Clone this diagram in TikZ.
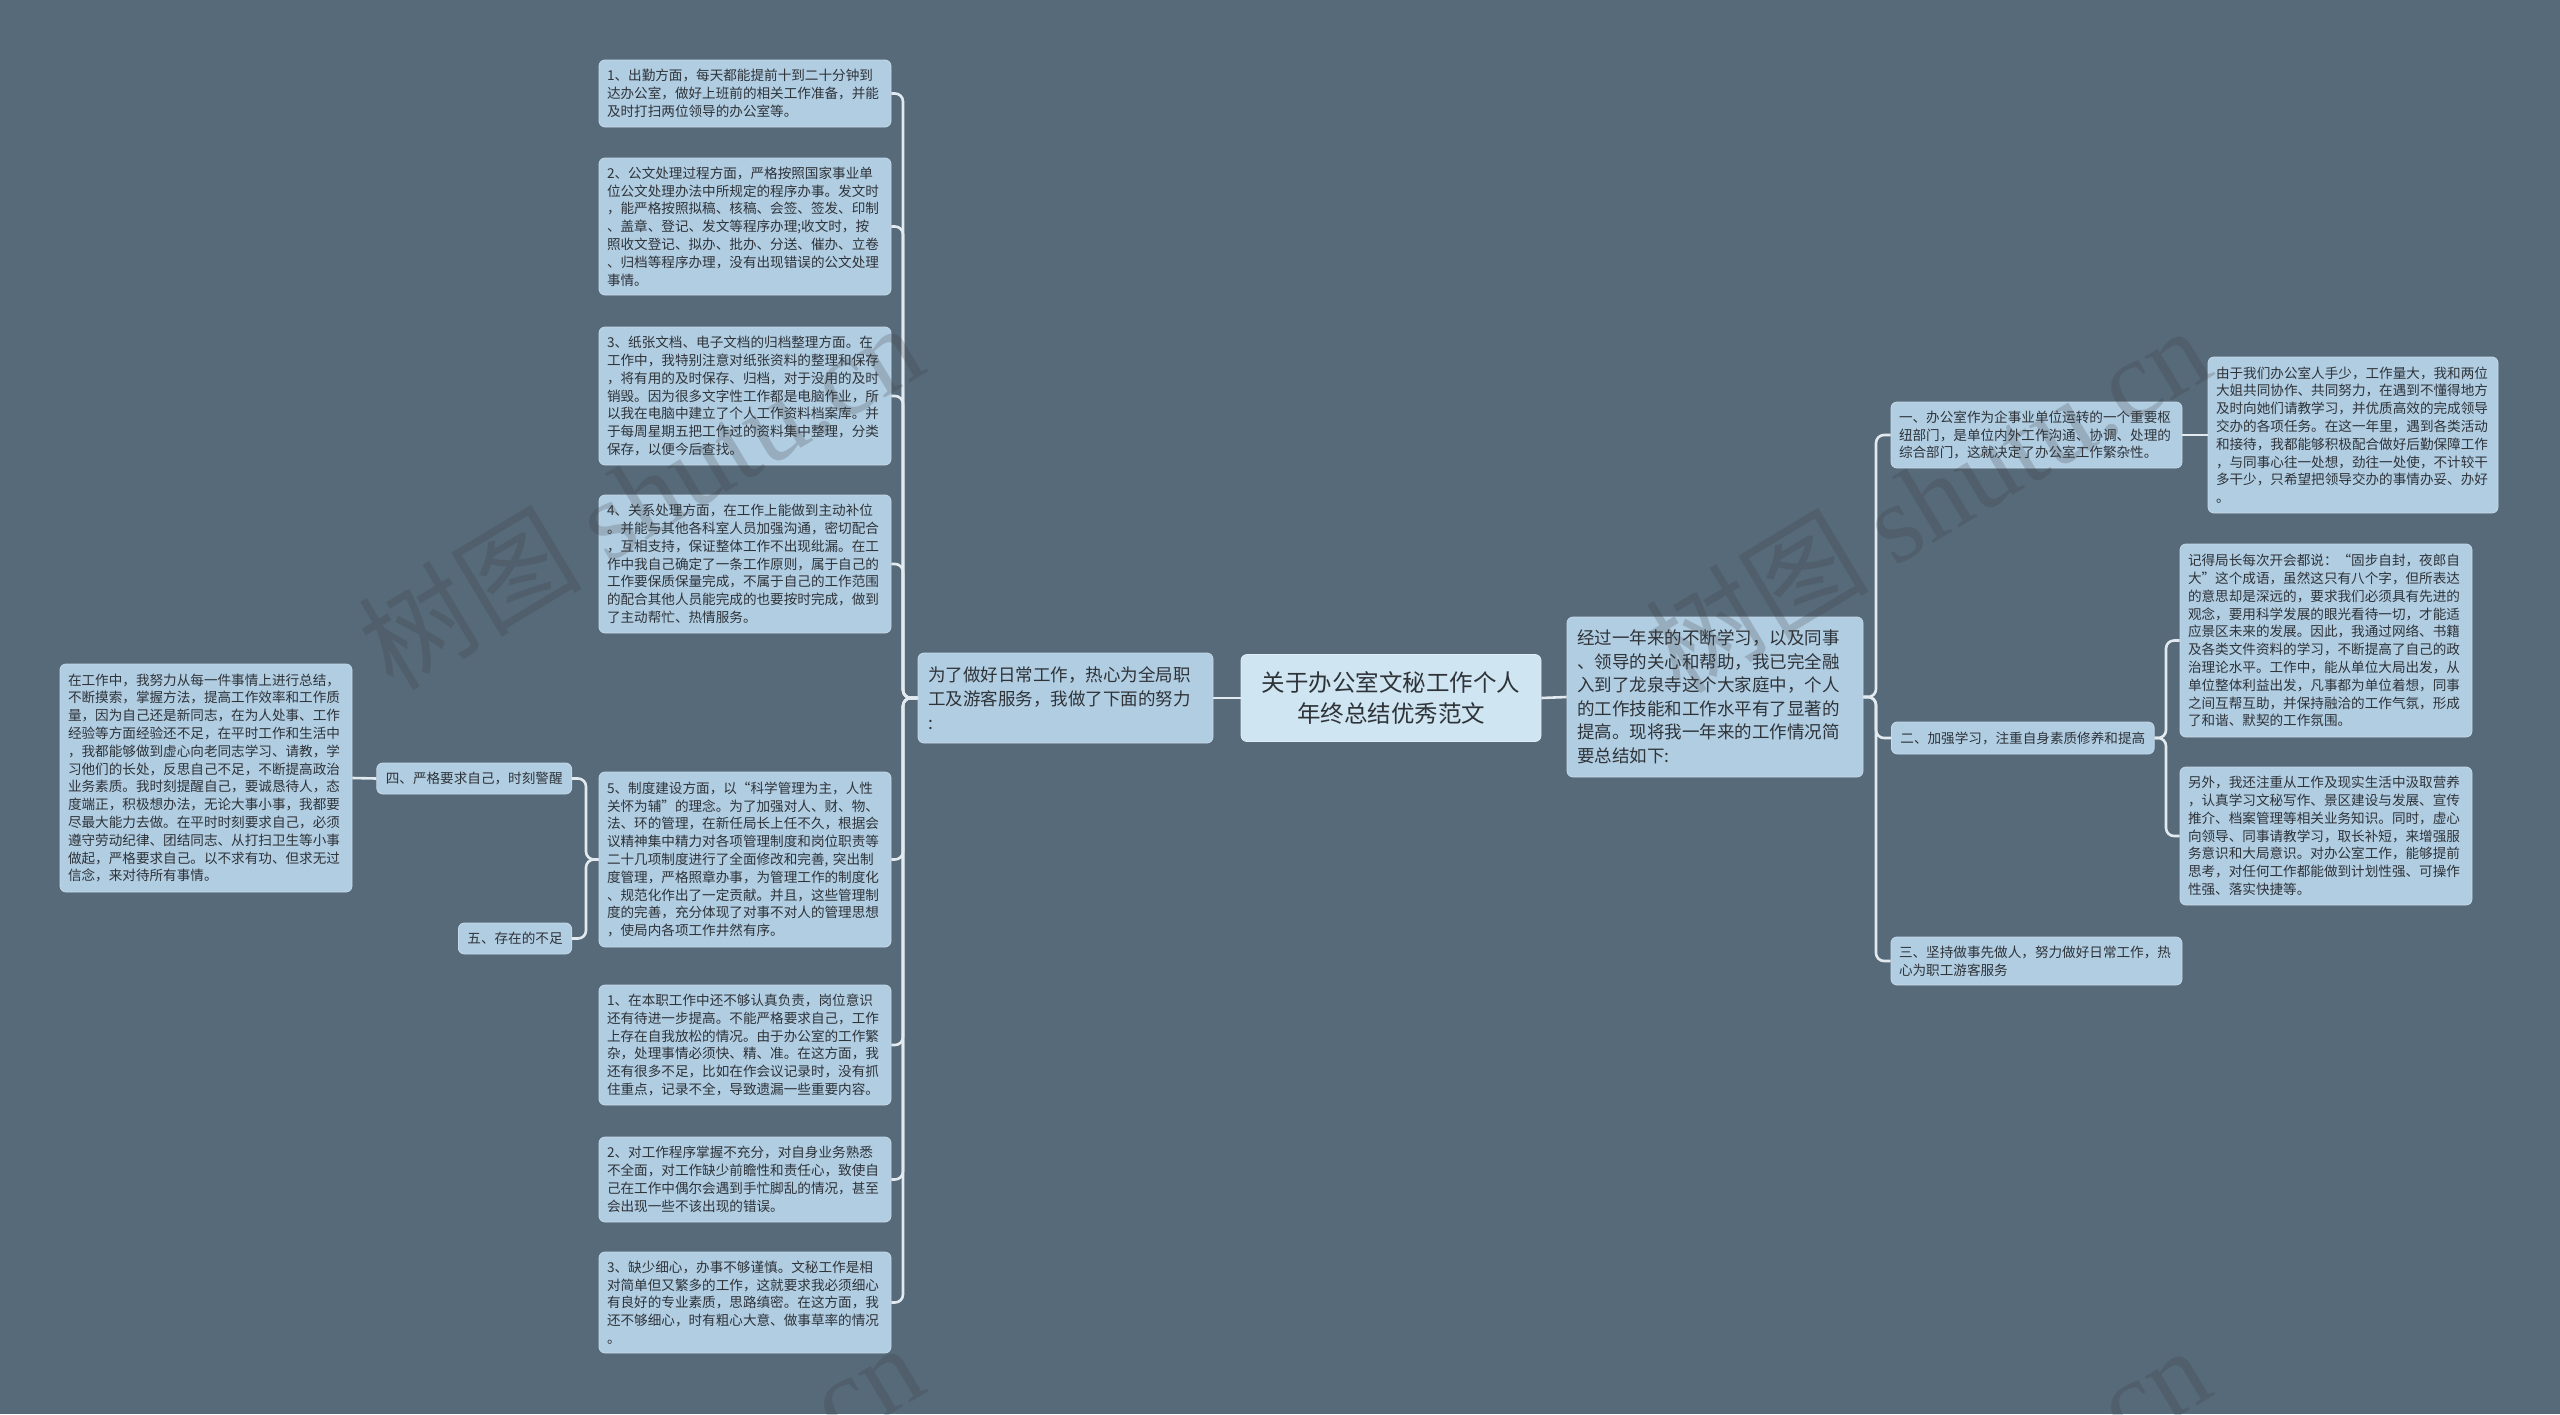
\documentclass[tikz,border=0pt]{standalone}
\usepackage{fontspec}
\setmainfont{Noto Sans CJK SC}
\newfontfamily\wmlatin{Liberation Serif}
\usetikzlibrary{calc}
\definecolor{bg}{HTML}{566A79}
\definecolor{boxc}{HTML}{B1CDE2}
\definecolor{rootc}{HTML}{D0E5F2}
\definecolor{linec}{HTML}{E2EAF0}
\definecolor{txt}{HTML}{2E3338}
\definecolor{wmc}{HTML}{3C3C3C}
\tikzset{
  basebox/.style={fill=boxc, draw=boxc!75!white, line width=0.8pt, rounded corners=6pt, text=txt},
  leaf/.style={basebox, align=left, inner xsep=8pt, inner ysep=6pt, text width=276pt,
    font=\fontsize{13.6}{17.8}\selectfont},
  single/.style={basebox, align=left, inner xsep=9pt, inner ysep=4pt, minimum height=31pt,
    font=\fontsize{13.6}{17.8}\selectfont},
  midbox/.style={basebox, align=left, inner xsep=10pt, inner ysep=6pt,
    font=\fontsize{17.5}{24}\selectfont},
  rootbox/.style={fill=rootc, draw=rootc!70!white, line width=0.8pt, rounded corners=6pt, text=txt,
    align=center, minimum width=300pt, minimum height=87pt, font=\fontsize{23.5}{31}\selectfont},
  conn/.style={draw=linec, line width=2.6pt, rounded corners=8pt},
  wm/.style={rotate=31, text=wmc, text opacity=0.22, font=\fontsize{112}{112}\selectfont}
}
\begin{document}
\begin{tikzpicture}[x=1pt,y=-1pt]
\fill[bg] (0,0) rectangle (2560,1414);
\useasboundingbox (0,0) rectangle (2560,1414);

% root and first level
\node[rootbox] (root) at (1391,698) {关于办公室文秘工作个人\\年终总结优秀范文};
\node[midbox, text width=275pt, minimum height=90pt] (ln) at (1065.5,698) {为了做好日常工作，热心为全局职\\工及游客服务，我做了下面的努力\\:};
\node[midbox, text width=276pt, minimum height=160pt, font=\fontsize{17.5}{23.5}\selectfont] (rn) at (1715,697) {经过一年来的不断学习，以及同事\\、领导的关心和帮助，我已完全融\\入到了龙泉寺这个大家庭中，个人\\的工作技能和工作水平有了显著的\\提高。现将我一年来的工作情况简\\要总结如下:};

% left column
\node[leaf, minimum height=67pt] (b1) at (745,93.5) {1、出勤方面，每天都能提前十到二十分钟到\\达办公室，做好上班前的相关工作准备，并能\\及时打扫两位领导的办公室等。};
\node[leaf, minimum height=137pt] (b2) at (745,226.5) {2、公文处理过程方面，严格按照国家事业单\\位公文处理办法中所规定的程序办事。发文时\\，能严格按照拟稿、核稿、会签、签发、印制\\、盖章、登记、发文等程序办理;收文时，按\\照收文登记、拟办、批办、分送、催办、立卷\\、归档等程序办理，没有出现错误的公文处理\\事情。};
\node[leaf, minimum height=138pt] (b3) at (745,396) {3、纸张文档、电子文档的归档整理方面。在\\工作中，我特别注意对纸张资料的整理和保存\\，将有用的及时保存、归档，对于没用的及时\\销毁。因为很多文字性工作都是电脑作业，所\\以我在电脑中建立了个人工作资料档案库。并\\于每周星期五把工作过的资料集中整理，分类\\保存，以便今后查找。};
\node[leaf, minimum height=138pt] (b4) at (745,564) {4、关系处理方面，在工作上能做到主动补位\\。并能与其他各科室人员加强沟通，密切配合\\，互相支持，保证整体工作不出现纰漏。在工\\作中我自己确定了一条工作原则，属于自己的\\工作要保质保量完成，不属于自己的工作范围\\的配合其他人员能完成的也要按时完成，做到\\了主动帮忙、热情服务。};
\node[leaf, minimum height=175pt] (b5) at (745,859.5) {5、制度建设方面，以“科学管理为主，人性\\关怀为辅”的理念。为了加强对人、财、物、\\法、环的管理，在新任局长上任不久，根据会\\议精神集中精力对各项管理制度和岗位职责等\\二十几项制度进行了全面修改和完善,~突出制\\度管理，严格照章办事，为管理工作的制度化\\、规范化作出了一定贡献。并且，这些管理制\\度的完善，充分体现了对事不对人的管理思想\\，使局内各项工作井然有序。};
\node[leaf, minimum height=120pt] (c1) at (745,1045) {1、在本职工作中还不够认真负责，岗位意识\\还有待进一步提高。不能严格要求自己，工作\\上存在自我放松的情况。由于办公室的工作繁\\杂，处理事情必须快、精、准。在这方面，我\\还有很多不足，比如在作会议记录时，没有抓\\住重点，记录不全，导致遗漏一些重要内容。};
\node[leaf, minimum height=85pt] (c2) at (745,1179.5) {2、对工作程序掌握不充分，对自身业务熟悉\\不全面，对工作缺少前瞻性和责任心，致使自\\己在工作中偶尔会遇到手忙脚乱的情况，甚至\\会出现一些不该出现的错误。};
\node[leaf, minimum height=101pt] (c3) at (745,1302.5) {3、缺少细心，办事不够谨慎。文秘工作是相\\对简单但又繁多的工作，这就要求我必须细心\\有良好的专业素质，思路缜密。在这方面，我\\还不够细心，时有粗心大意、做事草率的情况\\。};

% far left
\node[single, anchor=east] (si) at (572,778.5) {四、严格要求自己，时刻警醒};
\node[single, anchor=east] (wu) at (572,938.5) {五、存在的不足};
\node[leaf, minimum height=228pt] (lf) at (206,778) {在工作中，我努力从每一件事情上进行总结，\\不断摸索，掌握方法，提高工作效率和工作质\\量，因为自己还是新同志，在为人处事、工作\\经验等方面经验还不足，在平时工作和生活中\\，我都能够做到虚心向老同志学习、请教，学\\习他们的长处，反思自己不足，不断提高政治\\业务素质。我时刻提醒自己，要诚恳待人，态\\度端正，积极想办法，无论大事小事，我都要\\尽最大能力去做。在平时时刻要求自己，必须\\遵守劳动纪律、团结同志、从打扫卫生等小事\\做起，严格要求自己。以不求有功、但求无过\\信念，来对待所有事情。};

% right side
\node[leaf, text width=275pt, minimum height=66pt] (y1) at (2036.5,435) {一、办公室作为企事业单位运转的一个重要枢\\纽部门，是单位内外工作沟通、协调、处理的\\综合部门，这就决定了办公室工作繁杂性。};
\node[single, anchor=west, minimum height=32pt] (e2) at (1891,738) {二、加强学习，注重自身素质修养和提高};
\node[leaf, text width=275pt, minimum height=48pt] (s3) at (2036.5,961) {三、坚持做事先做人，努力做好日常工作，热\\心为职工游客服务};
\node[leaf, text width=274pt, minimum height=156pt] (yu) at (2353,435) {由于我们办公室人手少，工作量大，我和两位\\大姐共同协作、共同努力，在遇到不懂得地方\\及时向她们请教学习，并优质高效的完成领导\\交办的各项任务。在这一年里，遇到各类活动\\和接待，我都能够积极配合做好后勤保障工作\\，与同事心往一处想，劲往一处使，不计较干\\多干少，只希望把领导交办的事情办妥、办好\\。};
\node[leaf, minimum height=193pt] (jd) at (2326,640.5) {记得局长每次开会都说：“固步自封，夜郎自\\大”这个成语，虽然这只有八个字，但所表达\\的意思却是深远的，要求我们必须具有先进的\\观念，要用科学发展的眼光看待一切，才能适\\应景区未来的发展。因此，我通过网络、书籍\\及各类文件资料的学习，不断提高了自己的政\\治理论水平。工作中，能从单位大局出发，从\\单位整体利益出发，凡事都为单位着想，同事\\之间互帮互助，并保持融洽的工作气氛，形成\\了和谐、默契的工作氛围。};
\node[leaf, minimum height=138pt] (lw) at (2326,836) {另外，我还注重从工作及现实生活中汲取营养\\，认真学习文秘写作、景区建设与发展、宣传\\推介、档案管理等相关业务知识。同时，虚心\\向领导、同事请教学习，取长补短，来增强服\\务意识和大局意识。对办公室工作，能够提前\\思考，对任何工作都能做到计划性强、可操作\\性强、落实快捷等。};

% connectors
\draw[conn] (root.west) -- (ln.east);
\draw[conn] (root.east) -- (rn.west);
\coordinate (lbus) at (903,698);
\foreach \n in {b1,b2,b3,b4,b5,c1,c2,c3} \draw[conn] (ln.west) -- (lbus) |- (\n.east);
\coordinate (mbus) at (586,859.5);
\draw[conn] (b5.west) -- (mbus) |- (si.east);
\draw[conn] (b5.west) -- (mbus) |- (wu.east);
\draw[conn] (si.west) -- (lf.east);
\coordinate (rbus) at (1876,697);
\foreach \n in {y1,e2,s3} \draw[conn] (rn.east) -- (rbus) |- (\n.west);
\draw[conn] (y1.east) -- (yu.west);
\coordinate (ebus) at (2166,738);
\draw[conn] (e2.east) -- (ebus) |- (jd.west);
\draw[conn] (e2.east) -- (ebus) |- (lw.west);

% watermarks
\foreach \p in {(640,495),(1927,498),(640,1515),(1927,1518)}
  \node[wm] at \p {树图 {\wmlatin shutu.cn}};
\end{tikzpicture}
\end{document}
